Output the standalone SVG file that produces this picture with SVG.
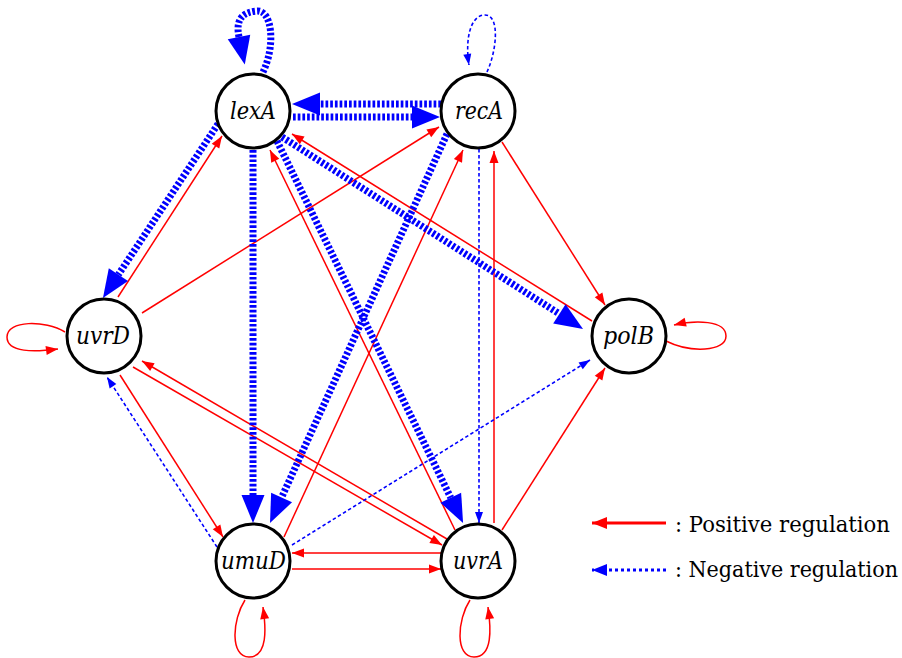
<svg xmlns="http://www.w3.org/2000/svg" width="902" height="658" viewBox="0 0 902 658">
  <style>
    .pos { fill: none; stroke: #ff0000; stroke-width: 1.5; }
    .neg { fill: none; stroke: #0000ff; stroke-width: 1.6; stroke-dasharray: 3.5 2.5; }
    .negw { fill: none; stroke: #0000ff; stroke-width: 7; stroke-dasharray: 2.7 2; }
    .node circle { fill: #ffffff; stroke: #000000; stroke-width: 3; }
    .node text { font-family: "DejaVu Serif Condensed", "DejaVu Serif", serif; font-style: italic; font-size: 25px; text-anchor: middle; fill: #000000; }
    .legend text { font-family: "DejaVu Serif Condensed", "DejaVu Serif", serif; font-size: 23px; fill: #000000; }
  </style>
  <defs>
    <marker id="aPos" markerUnits="userSpaceOnUse" markerWidth="12" markerHeight="9" refX="12" refY="4.5" orient="auto" overflow="visible">
      <path d="M0,0 L12,4.5 L0,9 z" fill="#ff0000"/>
    </marker>
    <marker id="aNeg" markerUnits="userSpaceOnUse" markerWidth="11" markerHeight="8" refX="11" refY="4" orient="auto" overflow="visible">
      <path d="M0,0 L11,4 L0,8 z" fill="#0000ff"/>
    </marker>
    <!-- wide head: base sits on the path end, tip reaches 28px beyond -->
    <marker id="aNegW" markerUnits="userSpaceOnUse" markerWidth="28" markerHeight="23" refX="0" refY="11.5" orient="auto" overflow="visible">
      <path d="M0,0 L28,11.5 L0,23 z" fill="#0000ff"/>
    </marker>
    <marker id="aPosL" markerUnits="userSpaceOnUse" markerWidth="15" markerHeight="12" refX="15" refY="6" orient="auto" overflow="visible">
      <path d="M0,0 L15,6 L0,12 z" fill="#ff0000"/>
    </marker>
    <marker id="aNegL" markerUnits="userSpaceOnUse" markerWidth="15" markerHeight="12" refX="15" refY="6" orient="auto" overflow="visible">
      <path d="M0,0 L15,6 L0,12 z" fill="#0000ff"/>
    </marker>
  </defs>

  <g id="connectors">
    <!-- positive regulation -->
    <path class="pos" marker-end="url(#aPos)" d="M118,297 L222,136"/>
    <path class="pos" marker-end="url(#aPos)" d="M142,313 L439,127"/>
    <path class="pos" marker-end="url(#aPos)" d="M455,530 L270,150"/>
    <path class="pos" marker-end="url(#aPos)" d="M592,321 L292,134"/>
    <path class="pos" marker-end="url(#aPos)" d="M284,537 L463,150"/>
    <path class="pos" marker-end="url(#aPos)" d="M494,523 L494,151"/>
    <path class="pos" marker-end="url(#aPos)" d="M502,142 L605,305"/>
    <path class="pos" marker-end="url(#aPos)" d="M502,530 L605,368"/>
    <path class="pos" marker-end="url(#aPos)" d="M447,539 L142,361"/>
    <path class="pos" marker-end="url(#aPos)" d="M120,375 L223,537"/>
    <path class="pos" marker-end="url(#aPos)" d="M133,367 L442,545"/>
    <path class="pos" marker-end="url(#aPos)" d="M441,553 L292,553"/>
    <path class="pos" marker-end="url(#aPos)" d="M292,569 L441,569"/>
    <path class="pos" marker-end="url(#aPos)" d="M65,332 C45,320 7,320 7,337 C7,353 35,352 58,349"/>
    <path class="pos" marker-end="url(#aPos)" d="M666,341 C690,353 726,352 726,336 C726,320 695,320 674,325"/>
    <path class="pos" marker-end="url(#aPos)" d="M245,600 C232,620 230,657 249,657 C268,657 266,628 263,607"/>
    <path class="pos" marker-end="url(#aPos)" d="M470,600 C457,620 455,657 474,657 C493,657 491,628 488,607"/>

    <!-- negative regulation, thin -->
    <path class="neg" marker-end="url(#aNeg)" d="M487,72 C497,50 500,15 485,15 C470,15 465,40 469,65"/>
    <path class="neg" marker-end="url(#aNeg)" d="M479,149 L479,523"/>
    <path class="neg" marker-end="url(#aNeg)" d="M217,547 L107,377"/>
    <path class="neg" marker-end="url(#aNeg)" d="M292,545 L590,360"/>

    <!-- negative regulation, wide -->
    <path class="negw" marker-end="url(#aNegW)" d="M263,72 C276,45 272,10 257,11 C244,12 235,18 239,37"/>
    <path class="negw" marker-end="url(#aNegW)" d="M441,104 L320,104"/>
    <path class="negw" marker-end="url(#aNegW)" d="M293,117 L412,117"/>
    <path class="negw" marker-end="url(#aNegW)" d="M218,124 L118.4,274.6"/>
    <path class="negw" marker-end="url(#aNegW)" d="M253,150 L253,495"/>
    <path class="negw" marker-end="url(#aNegW)" d="M277,141 L450.8,497.8"/>
    <path class="negw" marker-end="url(#aNegW)" d="M282,137 L559.4,313.9"/>
    <path class="negw" marker-end="url(#aNegW)" d="M447,134 L281.6,497.5"/>
  </g>

  <g id="lexA" class="node"><circle cx="253" cy="111" r="37"/><text x="253" y="119" textLength="46" lengthAdjust="spacingAndGlyphs">lexA</text></g>
  <g id="recA" class="node"><circle cx="478" cy="111" r="37"/><text x="479" y="119" textLength="48" lengthAdjust="spacingAndGlyphs">recA</text></g>
  <g id="uvrD" class="node"><circle cx="104" cy="336" r="37"/><text x="103" y="344" textLength="54" lengthAdjust="spacingAndGlyphs">uvrD</text></g>
  <g id="polB" class="node"><circle cx="629" cy="336" r="37"/><text x="628.5" y="344" textLength="51" lengthAdjust="spacingAndGlyphs">polB</text></g>
  <g id="umuD" class="node"><circle cx="253" cy="561" r="37"/><text x="253.5" y="569" textLength="65" lengthAdjust="spacingAndGlyphs">umuD</text></g>
  <g id="uvrA" class="node"><circle cx="478" cy="561" r="37"/><text x="478" y="569" textLength="50" lengthAdjust="spacingAndGlyphs">uvrA</text></g>

  <g id="legend" class="legend">
    <path d="M666,523 L592,523" fill="none" stroke="#ff0000" stroke-width="3" marker-end="url(#aPosL)"/>
    <text x="675" y="532" textLength="215" lengthAdjust="spacingAndGlyphs">: Positive regulation</text>
    <path d="M666,570 L592,570" fill="none" stroke="#0000ff" stroke-width="3" stroke-dasharray="3 3" marker-end="url(#aNegL)"/>
    <text x="675" y="577" textLength="223" lengthAdjust="spacingAndGlyphs">: Negative regulation</text>
  </g>
</svg>
